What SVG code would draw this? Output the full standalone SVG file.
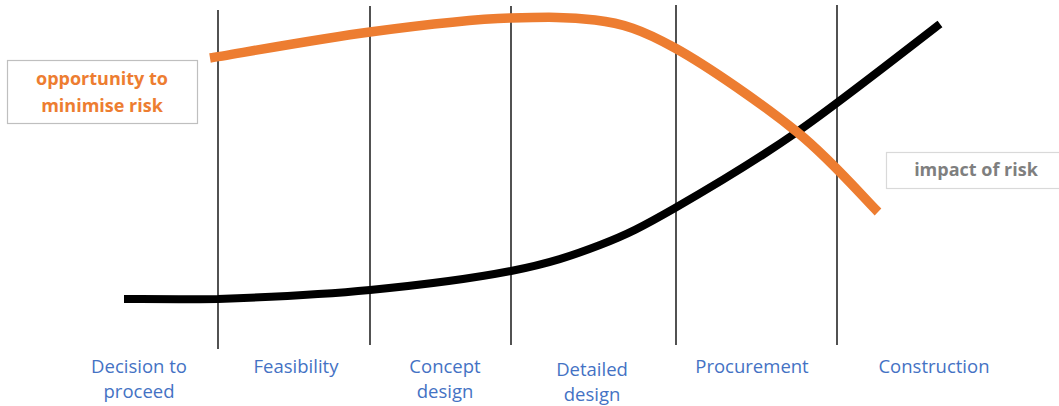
<svg xmlns="http://www.w3.org/2000/svg" width="1059" height="406" viewBox="0 0 1059 406">
<style>
.vl{stroke:#262626;stroke-width:1.6;fill:none}
.stage{font-family:"Open Sans","Noto Sans",sans-serif;font-size:18.5px;fill:#4472C4;text-anchor:middle}
.lbl{font-family:"Open Sans","Noto Sans",sans-serif;font-size:18px;font-weight:bold;text-anchor:middle}
.box{fill:#FFFFFF;stroke-width:1.2}
</style>
<rect width="1059" height="406" fill="#FFFFFF"/>
<g id="dividers">
<line class="vl" x1="218" y1="10" x2="218" y2="349"/>
<line class="vl" x1="370" y1="6" x2="370" y2="345"/>
<line class="vl" x1="511" y1="6" x2="511" y2="345"/>
<line class="vl" x1="676" y1="5" x2="676" y2="345"/>
<line class="vl" x1="837" y1="5" x2="837" y2="345"/>
</g>
<g id="connectors">
<path id="impact-curve" d="M124,299 C139.7,299 177,299.5 218,299 C259,297.5 321.2,294.7 370,290 C418.8,285.3 472.7,278.5 511,271 C549.3,263.5 572.7,255.5 600,245 C627.3,234.5 642.2,226.8 675,208 C707.8,189.2 752.8,162.7 797,132 C841.2,101.3 916.2,42 940,24" fill="none" stroke="#000000" stroke-width="8"/>
<path id="opportunity-curve" d="M210,58 C236.7,53.7 319.8,38.7 370,32 C420.2,25.3 473.5,19 511,18 C548.5,17 567.7,16.8 595,20 C622.3,23.2 641.3,29.3 675,48 C708.7,66.7 763.2,104.7 797,132 C830.8,159.3 864.5,198.7 878,212" fill="none" stroke="#ED7D31" stroke-width="9.5"/>
</g>
<g id="opportunity-label">
<rect class="box" x="7.5" y="60.5" width="190" height="63" stroke="#BFBFBF"/>
<text class="lbl" x="102" y="85" fill="#ED7D31">opportunity to</text>
<text class="lbl" x="102" y="112" fill="#ED7D31">minimise risk</text>
</g>
<g id="impact-label">
<rect class="box" x="886.5" y="152.5" width="180" height="36" stroke="#D9D9D9"/>
<text class="lbl" x="976" y="176" fill="#7F7F7F">impact of risk</text>
</g>
<g id="stage-decision">
<text class="stage" x="139" y="373">Decision to</text>
<text class="stage" x="139" y="398">proceed</text>
</g>
<g id="stage-feasibility">
<text class="stage" x="296" y="373">Feasibility</text>
</g>
<g id="stage-concept">
<text class="stage" x="445" y="373">Concept</text>
<text class="stage" x="445" y="398">design</text>
</g>
<g id="stage-detailed">
<text class="stage" x="592" y="376">Detailed</text>
<text class="stage" x="592" y="401">design</text>
</g>
<g id="stage-procurement">
<text class="stage" x="752" y="373">Procurement</text>
</g>
<g id="stage-construction">
<text class="stage" x="934" y="373">Construction</text>
</g>
</svg>
